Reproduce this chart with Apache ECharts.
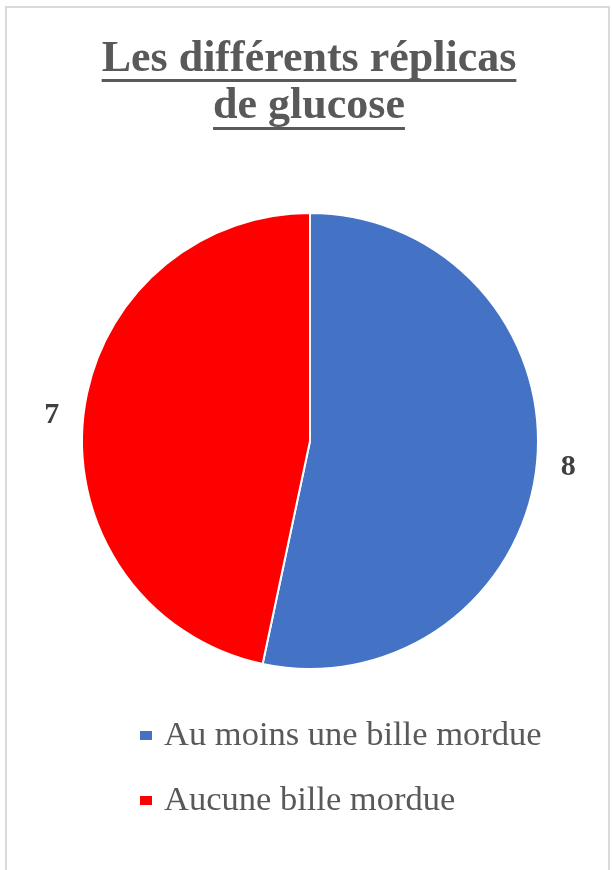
<!DOCTYPE html>
<html>
<head>
<meta charset="utf-8">
<script src="https://cdn.jsdelivr.net/npm/echarts@6/dist/echarts.min.js"></script>
<style>
html, body { margin: 0; padding: 0; background: #fff; }
#chart { width: 612px; height: 870px; }
</style>
</head>
<body>
<div id="chart"></div>
<script>
// Chart data
const titleLines = ['Les différents réplicas', 'de glucose'];
const categories = ['Au moins une bille mordue', 'Aucune bille mordue'];
const values = [8, 7];
const colors = ['#4472C4', '#FF0000'];

const SERIF = 'Liberation Serif';
const titleFontSize = 44;
const titleColor = '#595959';

// measure title lines so each one gets an underline of matching width
const measureCtx = document.createElement('canvas').getContext('2d');
measureCtx.font = 'bold ' + titleFontSize + 'px "' + SERIF + '"';

const centerX = 309;
const lineMiddles = [60, 107];
const underlineY = [79, 127];

const titleGraphics = [];
titleLines.forEach(function (line, i) {
  const w = measureCtx.measureText(line).width;
  titleGraphics.push({
    type: 'text',
    x: centerX,
    y: lineMiddles[i],
    style: {
      text: line,
      fontFamily: SERIF,
      fontWeight: 'bold',
      fontSize: titleFontSize,
      fill: titleColor,
      align: 'center',
      verticalAlign: 'middle'
    }
  });
  titleGraphics.push({
    type: 'rect',
    shape: { x: centerX - w / 2, y: underlineY[i], width: w, height: 3 },
    style: { fill: titleColor }
  });
});

const chart = echarts.init(document.getElementById('chart'), null, { renderer: 'canvas' });
chart.setOption({
  backgroundColor: '#fff',
  animation: false,
  color: colors,
  graphic: [
    {
      type: 'rect',
      shape: { x: 6, y: 7, width: 603, height: 900 },
      style: { fill: 'none', stroke: '#d9d9d9', lineWidth: 2 },
      z: 0
    }
  ].concat(titleGraphics),
  legend: {
    orient: 'vertical',
    left: 138,
    top: 718,
    padding: 0,
    icon: 'rect',
    itemWidth: 14,
    itemHeight: 11,
    itemGap: 30,
    data: categories,
    textStyle: {
      fontFamily: SERIF,
      fontSize: 34.5,
      lineHeight: 34,
      color: titleColor,
      padding: [0, 0, 0, 6]
    }
  },
  series: [{
    type: 'pie',
    center: [310, 441],
    radius: 228,
    startAngle: 90,
    clockwise: true,
    avoidLabelOverlap: false,
    itemStyle: { borderColor: '#fff', borderWidth: 2 },
    label: {
      show: true,
      position: 'outside',
      formatter: '{c}',
      fontFamily: SERIF,
      fontWeight: 'bold',
      fontSize: 30,
      color: '#404040'
    },
    labelLine: { show: false, length: 19, length2: 0 },
    emphasis: { disabled: true },
    data: categories.map(function (name, i) {
      return { name: name, value: values[i] };
    })
  }]
});
</script>
</body>
</html>
